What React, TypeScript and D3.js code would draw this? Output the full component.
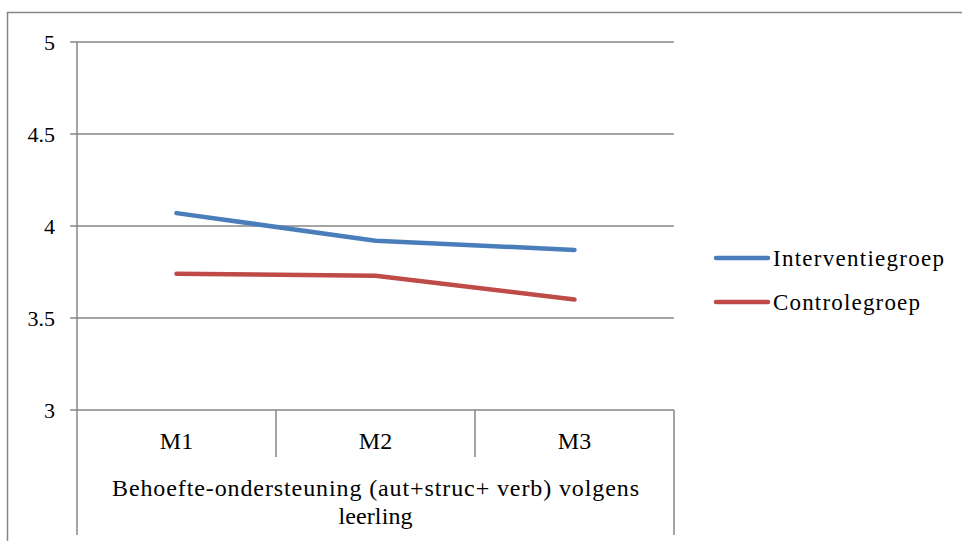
import React, { useEffect, useRef } from "react";
import * as d3 from "d3";

const categories = ["M1", "M2", "M3"];
const interventie = [4.07, 3.92, 3.87];
const controle = [3.74, 3.73, 3.6];
const yTicks = [3, 3.5, 4, 4.5, 5];
const seriesNames = ["Interventiegroep", "Controlegroep"];
const axisTitle = ["Behoefte-ondersteuning (aut+struc+ verb) volgens", "leerling"];

const W = 962;
const H = 541;
const FONT = "'Liberation Serif', 'Times New Roman', serif";
const GRID = "#868686";
const COLORS = ["#4A7EBB", "#BE4B48"];

export default function App() {
  const ref = useRef<SVGSVGElement | null>(null);

  useEffect(() => {
    const svg = d3.select(ref.current);
    svg.selectAll("*").remove();

    const left = 77, right = 674, top = 42, bottom = 410;
    const x = d3.scaleBand().domain(categories).range([left, right]).paddingInner(0).paddingOuter(0);
    const y = d3.scaleLinear().domain([3, 5]).range([bottom, top]);

    // outer chart frame (continues past the right and bottom edges)
    svg.append("rect")
      .attr("x", 7.5).attr("y", 12.5)
      .attr("width", W + 20).attr("height", H + 20)
      .attr("fill", "white").attr("stroke", GRID).attr("stroke-width", 1.5);

    // horizontal gridlines with tick stubs
    svg.append("g").selectAll("line").data(yTicks).join("line")
      .attr("x1", left - 7).attr("x2", right)
      .attr("y1", (d) => y(d)).attr("y2", (d) => y(d))
      .attr("stroke", GRID).attr("stroke-width", 1.5);

    svg.append("g").selectAll("text").data(yTicks).join("text")
      .attr("x", 55).attr("y", (d) => y(d))
      .attr("dy", "0.36em").attr("text-anchor", "end")
      .style("font-family", FONT).attr("font-size", 22).attr("fill", "#000")
      .text((d) => d3.format("")(d));

    // vertical axis line and right category border
    svg.append("line")
      .attr("x1", left).attr("x2", left).attr("y1", top).attr("y2", 535)
      .attr("stroke", GRID).attr("stroke-width", 1.5);
    svg.append("line")
      .attr("x1", right).attr("x2", right).attr("y1", bottom).attr("y2", 535)
      .attr("stroke", GRID).attr("stroke-width", 1.5);

    // inner category dividers
    const dividers = categories.slice(1).map((c) => x(c) as number);
    svg.append("g").selectAll("line").data(dividers).join("line")
      .attr("x1", (d) => d).attr("x2", (d) => d)
      .attr("y1", bottom).attr("y2", 457)
      .attr("stroke", GRID).attr("stroke-width", 1.5);

    // category labels
    svg.append("g").selectAll("text").data(categories).join("text")
      .attr("x", (d) => (x(d) as number) + x.bandwidth() / 2).attr("y", 449)
      .attr("text-anchor", "middle")
      .style("font-family", FONT).attr("font-size", 24).attr("fill", "#000")
      .text((d) => d);

    // group title under the categories
    const titleWidths = [527, 74];
    svg.append("g").selectAll("text").data(axisTitle).join("text")
      .attr("x", (left + right) / 2).attr("y", (_d, i) => 496 + i * 28)
      .attr("text-anchor", "middle")
      .attr("textLength", (_d, i) => titleWidths[i]).attr("lengthAdjust", "spacing")
      .style("font-family", FONT).attr("font-size", 24).attr("fill", "#000")
      .text((d) => d);

    // series lines
    const line = d3.line<number>()
      .x((_d, i) => (x(categories[i]) as number) + x.bandwidth() / 2)
      .y((d) => y(d));
    [interventie, controle].forEach((vals, i) => {
      svg.append("path")
        .datum(vals)
        .attr("d", line)
        .attr("fill", "none").attr("stroke", COLORS[i])
        .attr("stroke-width", 4.5).attr("stroke-linecap", "round").attr("stroke-linejoin", "round");
    });

    // legend
    const legendWidths = [171, 147];
    const lg = svg.append("g").selectAll("g").data(seriesNames).join("g")
      .attr("transform", (_d, i) => `translate(716, ${258 + i * 44})`);
    lg.append("line")
      .attr("x1", 0).attr("x2", 52).attr("y1", 0).attr("y2", 0)
      .attr("stroke", (_d, i) => COLORS[i]).attr("stroke-width", 4.5).attr("stroke-linecap", "round");
    lg.append("text")
      .attr("x", 57).attr("y", 0).attr("dy", "0.33em")
      .attr("textLength", (_d, i) => legendWidths[i]).attr("lengthAdjust", "spacing")
      .style("font-family", FONT).attr("font-size", 23).attr("fill", "#000")
      .text((d) => d);
  }, []);

  return <svg ref={ref} width={W} height={H} style={{ display: "block", position: "absolute", left: 0, top: 0 }} />;
}
